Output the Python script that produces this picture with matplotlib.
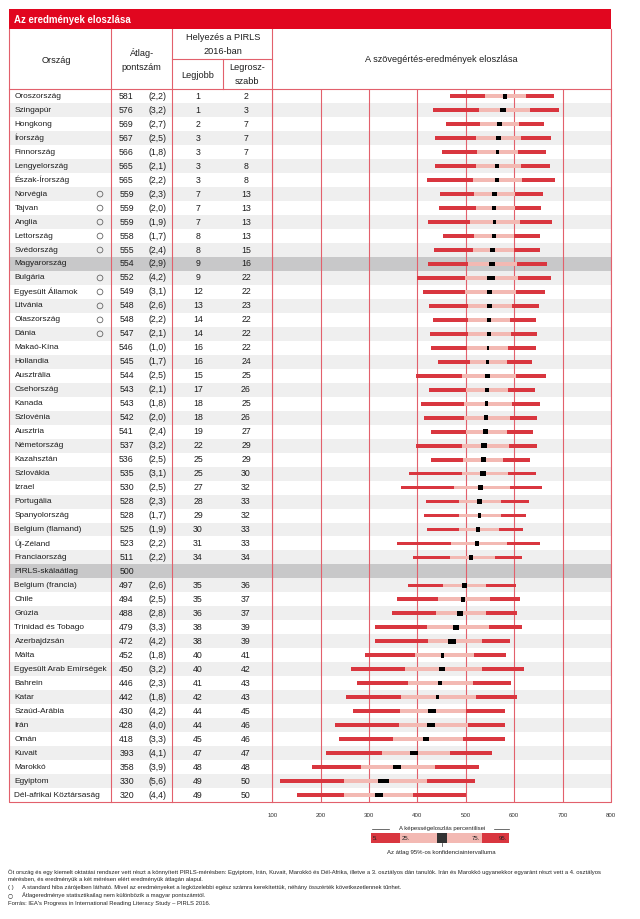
import numpy as np
import matplotlib.pyplot as plt

# -----------------------------------------
# data
# -----------------------------------------
countries = [
    "Oroszország", "Szingapúr", "Hongkong", "Írország", "Finnország",
    "Lengyelország", "Észak-Írország", "Norvégia", "Tajvan", "Anglia",
    "Lettország", "Svédország", "Magyarország", "Bulgária", "Egyesült Államok",
    "Litvánia", "Olaszország", "Dánia", "Makaó-Kína", "Hollandia",
    "Ausztrália", "Csehország", "Kanada", "Szlovénia", "Ausztria",
    "Németország", "Kazahsztán", "Szlovákia", "Izrael", "Portugália",
    "Spanyolország", "Belgium (flamand)", "Új-Zéland", "Franciaország",
    "PIRLS-skálaátlag", "Belgium (francia)", "Chile", "Grúzia",
    "Trinidad és Tobago", "Azerbajdzsán", "Málta", "Egyesült Arab Emírségek",
    "Bahrein", "Katar", "Szaúd-Arábia", "Irán", "Omán", "Kuvait", "Marokkó",
    "Egyiptom", "Dél-afrikai Köztársaság",
]
mean_score = [581, 576, 569, 567, 566, 565, 565, 559, 559, 559, 558, 555, 554,
              552, 549, 548, 548, 547, 546, 545, 544, 543, 543, 542, 541, 537,
              536, 535, 530, 528, 528, 525, 523, 511, 500, 497, 494, 488, 479,
              472, 452, 450, 446, 442, 430, 428, 418, 393, 358, 330, 320]
std_err = [2.2, 3.2, 2.7, 2.5, 1.8, 2.1, 2.2, 2.3, 2.0, 1.9, 1.7, 2.4, 2.9,
           4.2, 3.1, 2.6, 2.2, 2.1, 1.0, 1.7, 2.5, 2.1, 1.8, 2.0, 2.4, 3.2,
           2.5, 3.1, 2.5, 2.3, 1.7, 1.9, 2.2, 2.2, np.nan, 2.6, 2.5, 2.8, 3.3,
           4.2, 1.8, 3.2, 2.3, 1.8, 4.2, 4.0, 3.3, 4.1, 3.9, 5.6, 4.4]
rank_best = [1, 1, 2, 3, 3, 3, 3, 7, 7, 7, 8, 8, 9, 9, 12, 13, 14, 14, 16, 16,
             15, 17, 18, 18, 19, 22, 25, 25, 27, 28, 29, 30, 31, 34, None, 35,
             35, 36, 38, 38, 40, 40, 41, 42, 44, 44, 45, 47, 48, 49, 49]
rank_worst = [2, 3, 7, 7, 7, 8, 8, 13, 13, 13, 13, 15, 16, 22, 22, 23, 22, 22,
              22, 24, 25, 26, 25, 26, 27, 29, 29, 30, 32, 33, 32, 33, 33, 34,
              None, 36, 37, 37, 39, 39, 41, 42, 43, 43, 45, 46, 46, 47, 48, 50, 50]
pct5 = [467, 433, 458, 436, 450, 436, 420, 446, 445, 422, 452, 434, 422, 400,
        412, 424, 433, 426, 429, 442, 396, 424, 408, 414, 427, 396, 429, 382,
        366, 418, 414, 420, 357, 391, np.nan, 380, 357, 348, 312, 313, 292,
        263, 276, 252, 266, 229, 238, 210, 183, 116, 152]
pct25 = [540, 527, 530, 521, 523, 520, 514, 516, 520, 508, 516, 514, 505, 499,
         499, 505, 505, 505, 503, 508, 493, 500, 497, 497, 500, 492, 495, 492,
         475, 485, 485, 485, 469, 467, np.nan, 453, 442, 439, 420, 422, 395,
         374, 381, 367, 363, 362, 350, 326, 284, 248, 248]
pct75 = [625, 632, 610, 615, 608, 614, 617, 601, 601, 612, 599, 599, 605, 608,
         603, 595, 591, 593, 588, 586, 603, 587, 595, 591, 586, 589, 577, 588,
         591, 572, 572, 569, 586, 560, np.nan, 542, 550, 542, 548, 533, 517,
         533, 514, 522, 501, 505, 494, 467, 436, 420, 391]
pct95 = [682, 693, 661, 675, 665, 674, 684, 659, 656, 679, 654, 654, 667, 675,
         664, 652, 645, 648, 644, 636, 666, 642, 654, 648, 638, 648, 633, 644,
         658, 631, 625, 618, 654, 616, np.nan, 603, 611, 605, 617, 592, 582,
         621, 594, 605, 580, 580, 580, 555, 527, 518, 500]
# no significant difference from the Hungarian mean
similar = ["Norvégia", "Tajvan", "Anglia", "Lettország", "Svédország",
           "Bulgária", "Egyesült Államok", "Litvánia", "Olaszország", "Dánia"]
highlight = ["Magyarország", "PIRLS-skálaátlag"]
score_ticks = [100, 200, 300, 400, 500, 600, 700, 800]

footnotes = [
    "Öt ország és egy kiemelt oktatási rendszer vett részt a könnyített PIRLS-mérésben: "
    "Egyiptom, Irán, Kuvait, Marokkó és Dél-Afrika, illetve a 3. osztályos dán tanulók. "
    "Irán és Marokkó ugyanekkor egyaránt részt vett a 4. osztályos",
    "mérésben, és eredményük a két mérésen elért eredményük átlagán alapul.",
]

# -----------------------------------------
# style
# -----------------------------------------
RED = "#d9363f"
PINK = "#f3b9b3"
HEAD = "#e1061f"
LINE = "#e2606c"
STRIPE = "#efefef"
HIGHLIGHT = "#c8c8c9"
TXT = "#1e1e1e"
plt.rcParams["font.family"] = ["Liberation Sans", "DejaVu Sans"]

W, H = 640, 919
fig = plt.figure(figsize=(W / 100, H / 100), dpi=100)


def px_axes(x0, y0, x1, y1):
    return fig.add_axes([x0 / W, 1 - y1 / H, (x1 - x0) / W, (y1 - y0) / H])


n = len(countries)
rows = np.arange(n)
X0, X_AT, X_RANK, X_SPLIT, X_CH, X1 = 9.3, 111, 172.3, 222.7, 272.3, 611
Y_TOP, Y_HEAD, Y_SUB, Y_ROWS, Y_BOT = 9.3, 29.3, 59.3, 89.3, 802

# -----------------------------------------
# table + chart axes
# -----------------------------------------
tb = px_axes(X0, Y_ROWS, X_CH, Y_BOT)
ax = px_axes(X_CH, Y_ROWS, X1, Y_BOT)
for a in (tb, ax):
    a.set_ylim(n - 0.5, -0.5)
    for s in a.spines.values():
        s.set_visible(False)
    a.set_yticks([])
    for i, c in enumerate(countries):
        if c in highlight:
            a.axhspan(i - 0.5, i + 0.5, color=HIGHLIGHT, lw=0, zorder=0.1)
        elif i % 2 == 1:
            a.axhspan(i - 0.5, i + 0.5, color=STRIPE, lw=0, zorder=0.1)
tb.set_xlim(X0, X_CH)
tb.set_xticks([])

ax.set_xlim(100, 800)
ax.set_xticks(score_ticks)
ax.tick_params(axis="x", length=0, labelsize=4.4, pad=8, labelcolor="#333333")
ax.set_axisbelow(True)
ax.grid(axis="x", color=LINE, lw=0.8)

p5, p25, p75, p95 = map(np.array, (pct5, pct25, pct75, pct95))
m = np.array(mean_score, dtype=float)
ci = 1.96 * np.array(std_err)
ok = ~np.isnan(p5)
bh = 0.27
ax.barh(rows[ok], (p25 - p5)[ok], left=p5[ok], height=bh, color=RED, zorder=2)
ax.barh(rows[ok], (p75 - p25)[ok], left=p25[ok], height=bh, color=PINK, zorder=2)
ax.barh(rows[ok], (p95 - p75)[ok], left=p75[ok], height=bh, color=RED, zorder=2)
ax.barh(rows[ok], 2 * ci[ok], left=(m - ci)[ok], height=0.32, color="black", zorder=3)

fs = 6.3
for i, c in enumerate(countries):
    tb.text(14.5, i, c, va="center", ha="left", fontsize=5.95, color=TXT)
    tb.text(126.5, i, str(mean_score[i]), va="center", ha="center", fontsize=fs, color=TXT)
    if not np.isnan(std_err[i]):
        tb.text(157.3, i, "(" + f"{std_err[i]:.1f}".replace(".", ",") + ")",
                va="center", ha="center", fontsize=fs, color=TXT)
    if rank_best[i] is not None:
        tb.text(198, i, str(rank_best[i]), va="center", ha="center", fontsize=fs, color=TXT)
        tb.text(246, i, str(rank_worst[i]), va="center", ha="center", fontsize=fs, color=TXT)
sim_rows = [countries.index(c) for c in similar]
tb.scatter([100] * len(sim_rows), sim_rows, s=17, facecolors="none",
           edgecolors="#666666", linewidths=0.6, zorder=3)

# -----------------------------------------
# overlay: header, borders, legend, notes
# -----------------------------------------
ov = px_axes(0, 0, W, H)
ov.set_xlim(0, W)
ov.set_ylim(H, 0)
ov.axis("off")
ov.set_zorder(10)

ov.fill_between([X0, X1], Y_TOP, Y_HEAD, color=HEAD, lw=0)
ov.text(14, 19.8, "Az eredmények eloszlása", color="white", fontsize=6.9,
        fontweight="bold", va="center", ha="left")

lk = dict(color=LINE, lw=0.8)
ov.plot([X0, X0, X1, X1], [Y_HEAD, Y_BOT, Y_BOT, Y_HEAD], **lk)
ov.plot([X0, X1], [Y_ROWS, Y_ROWS], **lk)
for x in (X_AT, X_RANK, X_CH):
    ov.plot([x, x], [Y_HEAD, Y_BOT], **lk)
ov.plot([X_RANK, X_CH], [Y_SUB, Y_SUB], **lk)
ov.plot([X_SPLIT, X_SPLIT], [Y_SUB, Y_ROWS], **lk)

hs = dict(fontsize=6.6, color=TXT, ha="center", va="center", linespacing=1.6)
ov.text(56, 60.5, "Ország", **hs)
ov.text(141.7, 60, "Átlag-\npontszám", **hs)
ov.text(222.7, 44.5, "Helyezés a PIRLS\n2016-ban", **hs)
ov.text(197.5, 75, "Legjobb", **hs)
ov.text(247, 74.5, "Legrosz-\nszabb", **hs)
ov.text((X_CH + X1) / 2, 60, "A szövegértés-eredmények eloszlása", **hs)

# legend key
lx = [370.7, 400, 436.7, 446.7, 481.7, 509]
lcol = [RED, PINK, "#333333", PINK, RED]
for a_, b_, c_ in zip(lx[:-1], lx[1:], lcol):
    ov.fill_between([a_, b_], 833.3, 843.3, color=c_, lw=0)
ks = dict(fontsize=4.3, color="#222222", va="center")
ov.text(372.5, 838.5, "5.", ha="left", **ks)
ov.text(402, 838.5, "25.", ha="left", **ks)
ov.text(479.5, 838.5, "75.", ha="right", **ks)
ov.text(507, 838.5, "95.", ha="right", **ks)
ov.plot([441.7, 441.7], [843.3, 846], color="#333333", lw=0.5)
ov.text(441.7, 828.7, "A képességeloszlás percentilisei", ha="center", **ks)
ov.plot([371.5, 389], [828.7, 828.7], color="#333333", lw=0.5)
ov.plot([494, 509], [828.7, 828.7], color="#333333", lw=0.5)
ov.text(441.7, 852.5, "Az átlag 95%-os konfidenciaintervalluma", ha="center", **ks)

ns = dict(fontsize=4.2, color="#222222", va="center", ha="left")
ov.text(8, 872.5, footnotes[0], **ns)
ov.text(8, 880, footnotes[1], **ns)
ov.text(8, 888, "( )", **ns)
ov.text(22, 888, "A standard hiba zárójelben látható. Mivel az eredményeket a legközelebbi "
        "egész számra kerekítettük, néhány összérték következetlennek tűnhet.", **ns)
ov.text(8, 895.5, "○", family=["DejaVu Sans"], **ns)
ov.text(22, 895.5, "Átlageredménye statisztikailag nem különbözik a magyar pontszámtól.", **ns)
ov.text(8, 903, "Forrás: IEA's Progress in International Reading Literacy Study – PIRLS 2016.", **ns)

fig.savefig("out.png", dpi=100)
